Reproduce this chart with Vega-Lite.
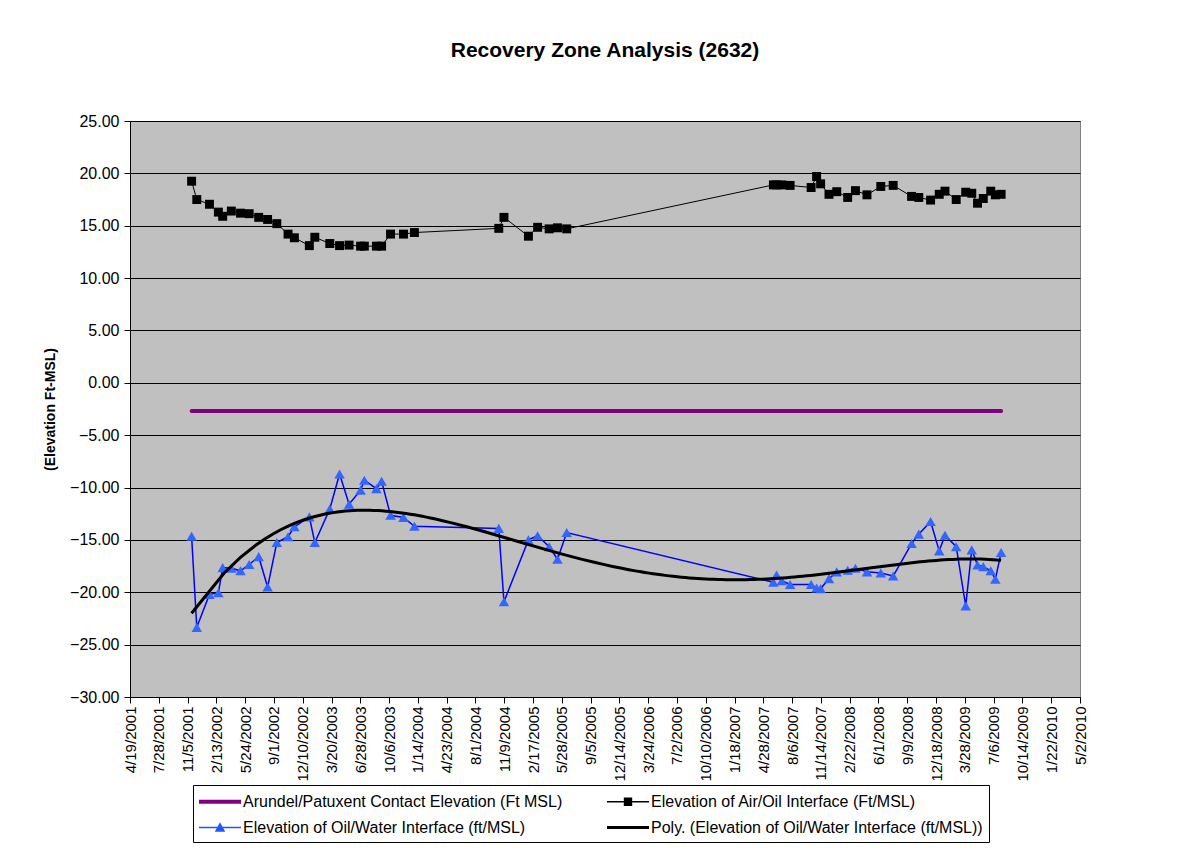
{
  "$schema": "https://vega.github.io/schema/vega-lite/v6.json",
  "width": 950,
  "height": 576,
  "autosize": "none",
  "padding": {"left": 130, "top": 121, "right": 98, "bottom": 157},
  "background": "white",
  "title": {"text": "Recovery Zone Analysis (2632)", "fontSize": 21, "fontWeight": "bold", "font": "Liberation Sans", "color": "black", "offset": 52, "frame": "group", "anchor": "middle"},
  "config": {
    "font": "Liberation Sans",
    "view": {"fill": "#C0C0C0", "stroke": "#808080", "strokeWidth": 1},
    "axis": {"labelColor": "black", "titleColor": "black", "domainColor": "black", "tickColor": "black", "labelFont": "Liberation Sans", "titleFont": "Liberation Sans"}
  },
  "data": {
    "format": {"parse": {"date": "date"}},
    "values": [
      {"date": "2001/11/19", "series": "Arundel/Patuxent Contact Elevation (Ft MSL)", "value": -2.7},
      {"date": "2009/08/01", "series": "Arundel/Patuxent Contact Elevation (Ft MSL)", "value": -2.7},
      {"date": "2001/11/19", "series": "Elevation of Air/Oil Interface (Ft/MSL)", "value": 19.25},
      {"date": "2001/12/07", "series": "Elevation of Air/Oil Interface (Ft/MSL)", "value": 17.5},
      {"date": "2002/01/20", "series": "Elevation of Air/Oil Interface (Ft/MSL)", "value": 17.05},
      {"date": "2002/02/20", "series": "Elevation of Air/Oil Interface (Ft/MSL)", "value": 16.3},
      {"date": "2002/03/07", "series": "Elevation of Air/Oil Interface (Ft/MSL)", "value": 15.9},
      {"date": "2002/04/06", "series": "Elevation of Air/Oil Interface (Ft/MSL)", "value": 16.4},
      {"date": "2002/05/08", "series": "Elevation of Air/Oil Interface (Ft/MSL)", "value": 16.2},
      {"date": "2002/06/07", "series": "Elevation of Air/Oil Interface (Ft/MSL)", "value": 16.15},
      {"date": "2002/07/10", "series": "Elevation of Air/Oil Interface (Ft/MSL)", "value": 15.8},
      {"date": "2002/08/10", "series": "Elevation of Air/Oil Interface (Ft/MSL)", "value": 15.6},
      {"date": "2002/09/11", "series": "Elevation of Air/Oil Interface (Ft/MSL)", "value": 15.2},
      {"date": "2002/10/20", "series": "Elevation of Air/Oil Interface (Ft/MSL)", "value": 14.2},
      {"date": "2002/11/11", "series": "Elevation of Air/Oil Interface (Ft/MSL)", "value": 13.85},
      {"date": "2003/01/02", "series": "Elevation of Air/Oil Interface (Ft/MSL)", "value": 13.1},
      {"date": "2003/01/21", "series": "Elevation of Air/Oil Interface (Ft/MSL)", "value": 13.9},
      {"date": "2003/03/14", "series": "Elevation of Air/Oil Interface (Ft/MSL)", "value": 13.3},
      {"date": "2003/04/17", "series": "Elevation of Air/Oil Interface (Ft/MSL)", "value": 13.1},
      {"date": "2003/05/20", "series": "Elevation of Air/Oil Interface (Ft/MSL)", "value": 13.15},
      {"date": "2003/06/29", "series": "Elevation of Air/Oil Interface (Ft/MSL)", "value": 13.05},
      {"date": "2003/07/12", "series": "Elevation of Air/Oil Interface (Ft/MSL)", "value": 13.05},
      {"date": "2003/08/23", "series": "Elevation of Air/Oil Interface (Ft/MSL)", "value": 13.05},
      {"date": "2003/09/10", "series": "Elevation of Air/Oil Interface (Ft/MSL)", "value": 13.05},
      {"date": "2003/10/11", "series": "Elevation of Air/Oil Interface (Ft/MSL)", "value": 14.2},
      {"date": "2003/11/25", "series": "Elevation of Air/Oil Interface (Ft/MSL)", "value": 14.2},
      {"date": "2004/01/02", "series": "Elevation of Air/Oil Interface (Ft/MSL)", "value": 14.35},
      {"date": "2004/10/21", "series": "Elevation of Air/Oil Interface (Ft/MSL)", "value": 14.75},
      {"date": "2004/11/08", "series": "Elevation of Air/Oil Interface (Ft/MSL)", "value": 15.8},
      {"date": "2005/02/01", "series": "Elevation of Air/Oil Interface (Ft/MSL)", "value": 14.0},
      {"date": "2005/03/05", "series": "Elevation of Air/Oil Interface (Ft/MSL)", "value": 14.85},
      {"date": "2005/04/14", "series": "Elevation of Air/Oil Interface (Ft/MSL)", "value": 14.7},
      {"date": "2005/05/13", "series": "Elevation of Air/Oil Interface (Ft/MSL)", "value": 14.8},
      {"date": "2005/06/14", "series": "Elevation of Air/Oil Interface (Ft/MSL)", "value": 14.7},
      {"date": "2007/06/02", "series": "Elevation of Air/Oil Interface (Ft/MSL)", "value": 18.9},
      {"date": "2007/06/13", "series": "Elevation of Air/Oil Interface (Ft/MSL)", "value": 18.9},
      {"date": "2007/07/01", "series": "Elevation of Air/Oil Interface (Ft/MSL)", "value": 18.9},
      {"date": "2007/07/30", "series": "Elevation of Air/Oil Interface (Ft/MSL)", "value": 18.85},
      {"date": "2007/10/11", "series": "Elevation of Air/Oil Interface (Ft/MSL)", "value": 18.65},
      {"date": "2007/10/30", "series": "Elevation of Air/Oil Interface (Ft/MSL)", "value": 19.7},
      {"date": "2007/11/13", "series": "Elevation of Air/Oil Interface (Ft/MSL)", "value": 19.0},
      {"date": "2007/12/12", "series": "Elevation of Air/Oil Interface (Ft/MSL)", "value": 18.0},
      {"date": "2008/01/08", "series": "Elevation of Air/Oil Interface (Ft/MSL)", "value": 18.25},
      {"date": "2008/02/15", "series": "Elevation of Air/Oil Interface (Ft/MSL)", "value": 17.7},
      {"date": "2008/03/13", "series": "Elevation of Air/Oil Interface (Ft/MSL)", "value": 18.35},
      {"date": "2008/04/22", "series": "Elevation of Air/Oil Interface (Ft/MSL)", "value": 17.95},
      {"date": "2008/06/09", "series": "Elevation of Air/Oil Interface (Ft/MSL)", "value": 18.75},
      {"date": "2008/07/22", "series": "Elevation of Air/Oil Interface (Ft/MSL)", "value": 18.85},
      {"date": "2008/09/24", "series": "Elevation of Air/Oil Interface (Ft/MSL)", "value": 17.8},
      {"date": "2008/10/19", "series": "Elevation of Air/Oil Interface (Ft/MSL)", "value": 17.7},
      {"date": "2008/11/29", "series": "Elevation of Air/Oil Interface (Ft/MSL)", "value": 17.45},
      {"date": "2008/12/29", "series": "Elevation of Air/Oil Interface (Ft/MSL)", "value": 18.0},
      {"date": "2009/01/18", "series": "Elevation of Air/Oil Interface (Ft/MSL)", "value": 18.3},
      {"date": "2009/02/26", "series": "Elevation of Air/Oil Interface (Ft/MSL)", "value": 17.5},
      {"date": "2009/03/31", "series": "Elevation of Air/Oil Interface (Ft/MSL)", "value": 18.2},
      {"date": "2009/04/21", "series": "Elevation of Air/Oil Interface (Ft/MSL)", "value": 18.1},
      {"date": "2009/05/11", "series": "Elevation of Air/Oil Interface (Ft/MSL)", "value": 17.15},
      {"date": "2009/05/31", "series": "Elevation of Air/Oil Interface (Ft/MSL)", "value": 17.6},
      {"date": "2009/06/26", "series": "Elevation of Air/Oil Interface (Ft/MSL)", "value": 18.3},
      {"date": "2009/07/12", "series": "Elevation of Air/Oil Interface (Ft/MSL)", "value": 17.95},
      {"date": "2009/08/01", "series": "Elevation of Air/Oil Interface (Ft/MSL)", "value": 18.0},
      {"date": "2001/11/19", "series": "Elevation of Oil/Water Interface (ft/MSL)", "value": -14.65},
      {"date": "2001/12/07", "series": "Elevation of Oil/Water Interface (ft/MSL)", "value": -23.35},
      {"date": "2002/01/20", "series": "Elevation of Oil/Water Interface (ft/MSL)", "value": -20.2},
      {"date": "2002/02/20", "series": "Elevation of Oil/Water Interface (ft/MSL)", "value": -20.05},
      {"date": "2002/03/07", "series": "Elevation of Oil/Water Interface (ft/MSL)", "value": -17.65},
      {"date": "2002/04/06", "series": "Elevation of Oil/Water Interface (ft/MSL)", "value": -17.7},
      {"date": "2002/05/08", "series": "Elevation of Oil/Water Interface (ft/MSL)", "value": -17.95},
      {"date": "2002/06/07", "series": "Elevation of Oil/Water Interface (ft/MSL)", "value": -17.35},
      {"date": "2002/07/10", "series": "Elevation of Oil/Water Interface (ft/MSL)", "value": -16.6},
      {"date": "2002/08/10", "series": "Elevation of Oil/Water Interface (ft/MSL)", "value": -19.5},
      {"date": "2002/09/11", "series": "Elevation of Oil/Water Interface (ft/MSL)", "value": -15.25},
      {"date": "2002/10/20", "series": "Elevation of Oil/Water Interface (ft/MSL)", "value": -14.7},
      {"date": "2002/11/11", "series": "Elevation of Oil/Water Interface (ft/MSL)", "value": -13.75},
      {"date": "2003/01/02", "series": "Elevation of Oil/Water Interface (ft/MSL)", "value": -12.8},
      {"date": "2003/01/21", "series": "Elevation of Oil/Water Interface (ft/MSL)", "value": -15.25},
      {"date": "2003/03/14", "series": "Elevation of Oil/Water Interface (ft/MSL)", "value": -12.05},
      {"date": "2003/04/17", "series": "Elevation of Oil/Water Interface (ft/MSL)", "value": -8.7},
      {"date": "2003/05/20", "series": "Elevation of Oil/Water Interface (ft/MSL)", "value": -11.6},
      {"date": "2003/06/29", "series": "Elevation of Oil/Water Interface (ft/MSL)", "value": -10.25},
      {"date": "2003/07/12", "series": "Elevation of Oil/Water Interface (ft/MSL)", "value": -9.3},
      {"date": "2003/08/23", "series": "Elevation of Oil/Water Interface (ft/MSL)", "value": -10.1},
      {"date": "2003/09/10", "series": "Elevation of Oil/Water Interface (ft/MSL)", "value": -9.4},
      {"date": "2003/10/11", "series": "Elevation of Oil/Water Interface (ft/MSL)", "value": -12.65},
      {"date": "2003/11/25", "series": "Elevation of Oil/Water Interface (ft/MSL)", "value": -12.85},
      {"date": "2004/01/02", "series": "Elevation of Oil/Water Interface (ft/MSL)", "value": -13.7},
      {"date": "2004/10/21", "series": "Elevation of Oil/Water Interface (ft/MSL)", "value": -13.9},
      {"date": "2004/11/08", "series": "Elevation of Oil/Water Interface (ft/MSL)", "value": -20.9},
      {"date": "2005/02/01", "series": "Elevation of Oil/Water Interface (ft/MSL)", "value": -15.0},
      {"date": "2005/03/05", "series": "Elevation of Oil/Water Interface (ft/MSL)", "value": -14.6},
      {"date": "2005/04/14", "series": "Elevation of Oil/Water Interface (ft/MSL)", "value": -15.65},
      {"date": "2005/05/13", "series": "Elevation of Oil/Water Interface (ft/MSL)", "value": -16.85},
      {"date": "2005/06/14", "series": "Elevation of Oil/Water Interface (ft/MSL)", "value": -14.3},
      {"date": "2007/06/02", "series": "Elevation of Oil/Water Interface (ft/MSL)", "value": -19.05},
      {"date": "2007/06/13", "series": "Elevation of Oil/Water Interface (ft/MSL)", "value": -18.35},
      {"date": "2007/07/01", "series": "Elevation of Oil/Water Interface (ft/MSL)", "value": -18.9},
      {"date": "2007/07/30", "series": "Elevation of Oil/Water Interface (ft/MSL)", "value": -19.25},
      {"date": "2007/10/11", "series": "Elevation of Oil/Water Interface (ft/MSL)", "value": -19.25},
      {"date": "2007/10/30", "series": "Elevation of Oil/Water Interface (ft/MSL)", "value": -19.6},
      {"date": "2007/11/13", "series": "Elevation of Oil/Water Interface (ft/MSL)", "value": -19.65},
      {"date": "2007/12/12", "series": "Elevation of Oil/Water Interface (ft/MSL)", "value": -18.7},
      {"date": "2008/01/08", "series": "Elevation of Oil/Water Interface (ft/MSL)", "value": -18.05},
      {"date": "2008/02/15", "series": "Elevation of Oil/Water Interface (ft/MSL)", "value": -17.9},
      {"date": "2008/03/13", "series": "Elevation of Oil/Water Interface (ft/MSL)", "value": -17.7},
      {"date": "2008/04/22", "series": "Elevation of Oil/Water Interface (ft/MSL)", "value": -18.05},
      {"date": "2008/06/09", "series": "Elevation of Oil/Water Interface (ft/MSL)", "value": -18.15},
      {"date": "2008/07/22", "series": "Elevation of Oil/Water Interface (ft/MSL)", "value": -18.45},
      {"date": "2008/09/24", "series": "Elevation of Oil/Water Interface (ft/MSL)", "value": -15.35},
      {"date": "2008/10/19", "series": "Elevation of Oil/Water Interface (ft/MSL)", "value": -14.45},
      {"date": "2008/11/29", "series": "Elevation of Oil/Water Interface (ft/MSL)", "value": -13.25},
      {"date": "2008/12/29", "series": "Elevation of Oil/Water Interface (ft/MSL)", "value": -16.05},
      {"date": "2009/01/18", "series": "Elevation of Oil/Water Interface (ft/MSL)", "value": -14.55},
      {"date": "2009/02/26", "series": "Elevation of Oil/Water Interface (ft/MSL)", "value": -15.65},
      {"date": "2009/03/31", "series": "Elevation of Oil/Water Interface (ft/MSL)", "value": -21.3},
      {"date": "2009/04/21", "series": "Elevation of Oil/Water Interface (ft/MSL)", "value": -15.95},
      {"date": "2009/05/11", "series": "Elevation of Oil/Water Interface (ft/MSL)", "value": -17.4},
      {"date": "2009/05/31", "series": "Elevation of Oil/Water Interface (ft/MSL)", "value": -17.55},
      {"date": "2009/06/26", "series": "Elevation of Oil/Water Interface (ft/MSL)", "value": -17.95},
      {"date": "2009/07/12", "series": "Elevation of Oil/Water Interface (ft/MSL)", "value": -18.75},
      {"date": "2009/08/01", "series": "Elevation of Oil/Water Interface (ft/MSL)", "value": -16.2}
    ]
  },
  "encoding": {
    "x": {
      "field": "date", "type": "temporal",
      "scale": {"domain": [{"year": 2001, "month": 4, "date": 19}, {"year": 2010, "month": 5, "date": 2}], "nice": false},
      "axis": {
        "title": null, "grid": false, "format": "%-m/%-d/%Y", "labelAngle": -90, "labelAlign": "right", "labelBaseline": "middle",
        "labelFontSize": 15, "labelPadding": 3, "tickSize": 6, "labelOverlap": false, "labelFlush": false,
        "values": [
          {"year": 2001, "month": 4, "date": 19}, {"year": 2001, "month": 7, "date": 28}, {"year": 2001, "month": 11, "date": 5},
          {"year": 2002, "month": 2, "date": 13}, {"year": 2002, "month": 5, "date": 24}, {"year": 2002, "month": 9, "date": 1},
          {"year": 2002, "month": 12, "date": 10}, {"year": 2003, "month": 3, "date": 20}, {"year": 2003, "month": 6, "date": 28},
          {"year": 2003, "month": 10, "date": 6}, {"year": 2004, "month": 1, "date": 14}, {"year": 2004, "month": 4, "date": 23},
          {"year": 2004, "month": 8, "date": 1}, {"year": 2004, "month": 11, "date": 9}, {"year": 2005, "month": 2, "date": 17},
          {"year": 2005, "month": 5, "date": 28}, {"year": 2005, "month": 9, "date": 5}, {"year": 2005, "month": 12, "date": 14},
          {"year": 2006, "month": 3, "date": 24}, {"year": 2006, "month": 7, "date": 2}, {"year": 2006, "month": 10, "date": 10},
          {"year": 2007, "month": 1, "date": 18}, {"year": 2007, "month": 4, "date": 28}, {"year": 2007, "month": 8, "date": 6},
          {"year": 2007, "month": 11, "date": 14}, {"year": 2008, "month": 2, "date": 22}, {"year": 2008, "month": 6, "date": 1},
          {"year": 2008, "month": 9, "date": 9}, {"year": 2008, "month": 12, "date": 18}, {"year": 2009, "month": 3, "date": 28},
          {"year": 2009, "month": 7, "date": 6}, {"year": 2009, "month": 10, "date": 14}, {"year": 2010, "month": 1, "date": 22},
          {"year": 2010, "month": 5, "date": 2}
        ]
      }
    },
    "y": {
      "field": "value", "type": "quantitative",
      "scale": {"domain": [-30, 25], "nice": false, "zero": false},
      "axis": {
        "title": "(Elevation Ft-MSL)", "titleFontSize": 14, "titleFontWeight": "bold", "titlePadding": 12,
        "values": [-30, -25, -20, -15, -10, -5, 0, 5, 10, 15, 20, 25], "format": ".2f",
        "labelFontSize": 16, "tickSize": 6, "labelPadding": 5,
        "grid": true, "gridColor": "#000000", "gridWidth": 1, "gridOpacity": 1
      }
    }
  },
  "layer": [
    {
      "transform": [{"filter": "datum.series === 'Arundel/Patuxent Contact Elevation (Ft MSL)'"}],
      "mark": {"type": "line", "color": "#800080", "strokeWidth": 4, "strokeCap": "round"}
    },
    {
      "transform": [{"filter": "datum.series === 'Elevation of Air/Oil Interface (Ft/MSL)'"}],
      "mark": {"type": "line", "color": "#000000", "strokeWidth": 1}
    },
    {
      "transform": [{"filter": "datum.series === 'Elevation of Air/Oil Interface (Ft/MSL)'"}],
      "mark": {"type": "point", "shape": "square", "filled": true, "color": "#000000", "size": 80, "opacity": 1}
    },
    {
      "transform": [{"filter": "datum.series === 'Elevation of Oil/Water Interface (ft/MSL)'"}],
      "mark": {"type": "line", "color": "#0000FF", "strokeWidth": 1.5}
    },
    {
      "transform": [{"filter": "datum.series === 'Elevation of Oil/Water Interface (ft/MSL)'"}],
      "mark": {"type": "point", "shape": "triangle-up", "filled": true, "color": "#3366FF", "size": 110, "opacity": 1}
    },
    {
      "transform": [
        {"filter": "datum.series === 'Elevation of Oil/Water Interface (ft/MSL)'"},
        {"regression": "value", "on": "date", "method": "poly", "order": 4}
      ],
      "mark": {"type": "line", "color": "#000000", "strokeWidth": 3}
    },
    {
      "mark": {"type": "point", "filled": true, "opacity": 0},
      "encoding": {
        "color": {
          "field": "series", "type": "nominal",
          "scale": {
            "domain": ["Arundel/Patuxent Contact Elevation (Ft MSL)", "Elevation of Oil/Water Interface (ft/MSL)", "Elevation of Air/Oil Interface (Ft/MSL)", "Poly. (Elevation of Oil/Water Interface (ft/MSL))"],
            "range": ["#800080", "#2255FF", "#000000", "#000000"]
          },
          "legend": {
            "title": null, "orient": "none", "legendX": 63, "legendY": 664, "columns": 2, "columnPadding": 44, "rowPadding": 7,
            "strokeColor": "#000000", "fillColor": "#FFFFFF", "padding": 6, "labelFontSize": 16, "labelColor": "black", "labelFont": "Liberation Sans",
            "labelOffset": 23, "symbolSize": 441, "symbolOpacity": 1, "symbolStrokeWidth": 0, "labelLimit": 0
          }
        },
        "shape": {
          "field": "series", "type": "nominal",
          "scale": {
            "domain": ["Arundel/Patuxent Contact Elevation (Ft MSL)", "Elevation of Oil/Water Interface (ft/MSL)", "Elevation of Air/Oil Interface (Ft/MSL)", "Poly. (Elevation of Oil/Water Interface (ft/MSL))"],
            "range": [
              "M-1,-0.19H3V0.19H-1Z",
              "M-1,-0.06H3V0.06H-1Z M1,-0.5L1.5,0.4H0.5Z",
              "M-1,-0.06H3V0.06H-1Z M0.6,-0.4H1.4V0.4H0.6Z",
              "M-1,-0.14H3V0.14H-1Z"
            ]
          },
          "legend": {
            "title": null, "orient": "none", "legendX": 63, "legendY": 664, "columns": 2, "columnPadding": 44, "rowPadding": 7,
            "strokeColor": "#000000", "fillColor": "#FFFFFF", "padding": 6, "labelFontSize": 16, "labelColor": "black", "labelFont": "Liberation Sans",
            "labelOffset": 23, "symbolSize": 441, "symbolOpacity": 1, "symbolStrokeWidth": 0, "labelLimit": 0
          }
        }
      }
    }
  ]
}
